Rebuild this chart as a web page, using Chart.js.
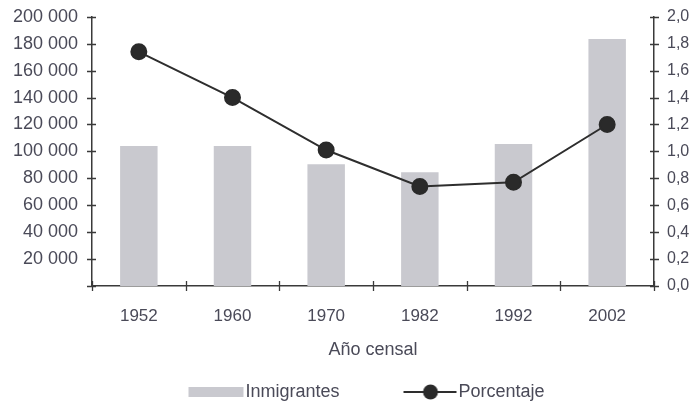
<!DOCTYPE html>
<html><head><meta charset="utf-8">
<script src="https://cdn.jsdelivr.net/npm/chart.js@4/dist/chart.umd.min.js"></script>
<style>html,body{margin:0;padding:0;background:#fff}#wrap{width:694px;height:403px;position:relative}</style>
</head><body><div id="wrap"><canvas id="c" width="694" height="403"></canvas></div>
<script>
const categories = ['1952','1960','1970','1982','1992','2002'];
const inmigrantes = [104000, 104000, 90500, 84500, 105500, 183500];
const porcentaje = [1.74, 1.40, 1.01, 0.74, 0.77, 1.20];
const leftTicks = [0,20000,40000,60000,80000,100000,120000,140000,160000,180000,200000];
const rightTicks = [0,0.2,0.4,0.6,0.8,1.0,1.2,1.4,1.6,1.8,2.0];

const TXT = '#4a4a58';
const AX = '#3a3a3a';
const FONT = "'Liberation Sans', Arial, sans-serif";
const BAR = '#c9c9cf';

function fmtThousands(v){ if(v===0) return ''; return String(v).replace(/\B(?=(\d{3})+(?!\d))/g,' '); }
function fmtDec(v){ return v.toFixed(1).replace('.', ','); }

// legend icons: common canvas width, content right-aligned (left part blank for spacing)
const PSW = 107, ICON_W = PSW + 16;
const barIcon = document.createElement('canvas'); barIcon.width = ICON_W; barIcon.height = 10;
(function(){const g=barIcon.getContext('2d'); g.fillStyle=BAR; g.fillRect(ICON_W-56,0,55,10);})();
const lineIcon = document.createElement('canvas'); lineIcon.width = ICON_W; lineIcon.height = 16;
(function(){const g=lineIcon.getContext('2d'); const s=ICON_W-54; g.strokeStyle='#2e2e2e'; g.lineWidth=2; g.beginPath(); g.moveTo(s,8); g.lineTo(s+53,8); g.stroke(); g.fillStyle='#2a2a2a'; g.beginPath(); g.arc(s+27,8,7.5,0,Math.PI*2); g.fill();})();

const crossTicks = {
  id:'crossTicks',
  afterDraw(chart){
    const ctx = chart.ctx, ca = chart.chartArea;
    ctx.save(); ctx.strokeStyle = AX; ctx.lineWidth = 1.3;
    const yl = chart.scales.y, yr = chart.scales.y2, x = chart.scales.x;
    ctx.beginPath();
    leftTicks.forEach(v=>{ const p = Math.round(yl.getPixelForValue(v))+0.5; ctx.moveTo(ca.left-5,p); ctx.lineTo(ca.left+4,p); });
    rightTicks.forEach(v=>{ const p = Math.round(yr.getPixelForValue(v))+0.5; ctx.moveTo(ca.right-4,p); ctx.lineTo(ca.right+5,p); });
    const half = (x.getPixelForValue(1)-x.getPixelForValue(0))/2;
    for(let i=0;i<=categories.length;i++){ const p = Math.round(x.getPixelForValue(i)-half)+0.5; ctx.moveTo(p,ca.bottom-5); ctx.lineTo(p,ca.bottom+5); }
    ctx.stroke(); ctx.restore();
  }
};

new Chart(document.getElementById('c'), {
  data:{
    labels: categories,
    datasets:[
      {type:'line', label:'Porcentaje', data:porcentaje, yAxisID:'y2', borderColor:'#2e2e2e', borderWidth:2,
       pointRadius:7.5, pointStyle:'circle', pointBackgroundColor:'#2a2a2a', pointBorderColor:'#2a2a2a', order:0},
      {type:'bar', label:'Inmigrantes', data:inmigrantes, yAxisID:'y', backgroundColor:BAR, barPercentage:0.4, categoryPercentage:1.0, order:1}
    ]
  },
  options:{
    responsive:false, animation:false,
    layout:{padding:{top:10, left:0, right:0, bottom:-8}},
    plugins:{
      tooltip:{enabled:false},
      legend:{position:'bottom',
        labels:{usePointStyle:true, pointStyleWidth:PSW, color:TXT, font:{family:FONT,size:18}, padding:3, boxHeight:18,
          generateLabels(chart){
            return [
              {text:'Inmigrantes', pointStyle:barIcon, datasetIndex:1, fontColor:TXT, lineWidth:0, strokeStyle:'transparent', fillStyle:'transparent'},
              {text:'Porcentaje    ', pointStyle:lineIcon, datasetIndex:0, fontColor:TXT, lineWidth:0, strokeStyle:'transparent', fillStyle:'transparent'}
            ];
          }
        }
      }
    },
    scales:{
      x:{offset:true, grid:{display:false}, border:{display:true,color:AX,width:1.5},
        ticks:{color:TXT, font:{family:FONT,size:17}, padding:12},
        title:{display:true, text:'Año censal', color:TXT, font:{family:FONT,size:18}, padding:{top:1,bottom:19}}},
      y:{position:'left', min:0, max:200000, grid:{display:false}, border:{display:true,color:AX,width:1.5},
        afterBuildTicks(s){ s.ticks = leftTicks.map(v=>({value:v})); },
        afterFit(s){ s.width = 92; },
        ticks:{color:TXT, font:{family:FONT,size:18}, padding:6, callback:v=>fmtThousands(v)}},
      y2:{position:'right', min:0, max:2, grid:{display:false}, border:{display:true,color:AX,width:1.5},
        afterBuildTicks(s){ s.ticks = rightTicks.map(v=>({value:v})); },
        afterFit(s){ s.width = 40; },
        ticks:{color:TXT, font:{family:FONT,size:16}, padding:5, callback:v=>fmtDec(v)}}
    }
  },
  plugins:[crossTicks]
});
</script></body></html>
